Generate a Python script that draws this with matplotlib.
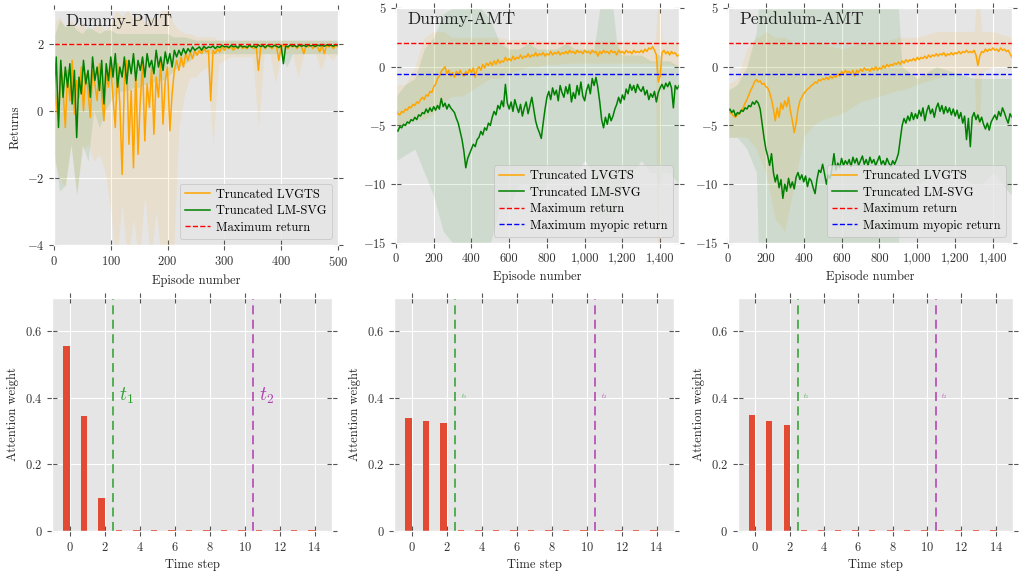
import numpy as np
import matplotlib
matplotlib.use("Agg")
import matplotlib.pyplot as plt
from matplotlib.ticker import FuncFormatter

plt.style.use("ggplot")
plt.rcParams["font.family"] = ["cmr10", "DejaVu Serif"]
plt.rcParams["mathtext.fontset"] = "cm"
plt.rcParams["axes.formatter.use_mathtext"] = True
plt.rcParams["axes.unicode_minus"] = True

# ---------------- data: training curves ----------------
# Dummy-PMT, every 4 episodes (0..500)
pmt_ep = np.arange(0, 501, 4)
pmt_lvgts = [1.0, 0.2, -0.3, 1.4, 0.6, -0.5, 1.2, 0.3, 1.5, -0.1,
             0.9, 0.4, 1.3, 0.0, 1.1, 0.6, -0.2, 1.2, 0.8, 0.3,
             1.4, 0.5, -0.3, 1.1, 0.7, 1.3,
             0.4, -0.5, 1.4, 0.2, -1.9, 0.9, 1.5, -1.0, 0.6, -1.7,
             1.2, -1.3, 0.3, 1.4, -0.9, 0.8, 0.1, 1.3, -0.7, 1.0,
             0.4, 1.5, -0.4, 0.9, 1.3, -0.6, 0.5, 1.2,
             1.5, 1.2, 1.6, 1.3, 1.7, 1.5, 1.75, 1.55, 1.8,
             1.65, 1.8, 1.7, 1.85, 1.75, 1.8, 0.3, 1.8, 1.7, 1.85, 1.75, 1.9, 1.8,
             1.9, 1.85, 1.9, 1.8, 1.9, 1.85, 1.95, 1.85, 1.9, 1.85,
             1.95, 1.9, 1.85, 1.95, 1.2, 1.9, 1.95, 1.85, 1.95, 1.9,
             1.85, 1.95, 1.9, 1.5, 1.9, 1.95, 1.9, 1.85, 1.95, 1.9,
             1.95, 1.85, 1.95, 1.9, 1.7, 1.95, 1.9, 1.95, 1.85, 1.95,
             1.9, 1.75, 1.95, 1.7, 1.95, 1.9, 1.95, 1.85, 1.95, 1.9]
pmt_lmsvg = [0.5, 1.6, -0.5, 1.5, 0.4, 1.3, 0.7, 1.4, 0.2, 1.2,
             -0.8, 1.0, 0.5, 1.5, 0.8, 1.2, 0.4, 1.6, 0.9, 1.3,
             0.6, 1.5, 0.2, 1.4, 0.9, 1.6,
             1.0, 1.7, 0.7, 1.3, 1.0, 1.6, 0.8, 1.5, 1.1, 1.7,
             0.9, 1.5, 1.2, 1.6, 1.0, 1.7, 1.3, 1.5, 1.1, 1.8,
             1.3, 1.6, 1.2, 1.75, 1.4, 1.7, 1.3, 1.8,
             1.6, 1.8, 1.65, 1.85, 1.7, 1.85, 1.75, 1.9, 1.8,
             1.85, 1.9, 1.8, 1.92, 1.85, 1.9, 1.88, 1.93, 1.85, 1.92, 1.88, 1.95, 1.9,
             1.92, 1.88, 1.95, 1.9, 1.93, 1.87, 1.95, 1.9, 1.92, 1.88,
             1.95, 1.9, 1.93, 1.88, 1.96, 1.91, 1.94, 1.88, 1.95, 1.92,
             1.9, 1.95, 1.92, 1.88, 1.95, 1.4, 1.93, 1.9, 1.96, 1.92,
             1.94, 1.9, 1.96, 1.92, 1.95, 1.91, 1.96, 1.93, 1.95, 1.91,
             1.96, 1.93, 1.95, 1.92, 1.96, 1.94, 1.95, 1.92, 1.96, 1.94]
pmt_band_ep = np.arange(0, 501, 10)
pmt_lvgts_lo = [-1.5, -2.0, -2.3, -1.0, -2.5, -1.2, -1.0, -1.5, -1.3, -1.8,
                -3.0, -4.5, -2.8, -4.5, -3.2, -4.5, -2.5, -4.5, -3.0, -4.5,
                -4.5, -4.5, -0.5, 0.5, 1.0, 1.0, 1.2, 1.3, -1.0, 1.4,
                1.5, 1.6, 1.6, 1.6, 1.6, 1.6, -0.5, 1.7, 1.7, 0.8,
                1.7, 1.7, 1.7, 1.0, 1.7, 1.7, 1.7, 1.2, 1.7, 1.5,
                1.7]
pmt_lvgts_hi = [2.6, 2.8, 2.5, 2.7, 2.5, 2.6, 2.4, 2.5, 2.6, 2.4,
                2.6, 3.0, 2.8, 3.0, 2.7, 2.9, 2.6, 2.8, 2.7, 3.0,
                3.1, 2.6, 2.4, 2.3, 2.3, 2.2, 2.2, 2.2, 2.2, 2.1,
                2.1, 2.1, 2.1, 2.1, 2.1, 2.1, 2.1, 2.1, 2.1, 2.1,
                2.1, 2.1, 2.1, 2.1, 2.1, 2.1, 2.1, 2.1, 2.1, 2.1,
                2.1]
pmt_lmsvg_lo = [-1.2, -2.4, -2.2, -1.0, -2.5, -1.0, -1.5, 0.0, -0.5, 0.0,
                0.3, 0.5, 0.6, 0.6, 0.7, 0.7, 0.8, 0.8, 0.9, 0.9,
                1.0, 1.2, 1.3, 1.4, 1.5, 1.7, 1.7, 1.7, 1.7, 1.7,
                1.7, 1.7, 1.7, 1.7, 1.7, 1.7, 1.7, 1.7, 1.7, 1.7,
                1.7, 1.3, 1.7, 1.7, 1.7, 1.7, 1.7, 1.7, 1.7, 1.7,
                1.7]
pmt_lmsvg_hi = [2.2, 2.7, 2.5, 2.6, 2.4, 2.3, 2.5, 2.4, 2.3, 2.4,
                2.4, 2.3, 2.3, 2.3, 2.3, 2.3, 2.3, 2.3, 2.3, 2.3,
                2.3, 2.2, 2.2, 2.2, 2.15, 2.1, 2.1, 2.1, 2.1, 2.1,
                2.1, 2.1, 2.1, 2.1, 2.1, 2.1, 2.1, 2.1, 2.1, 2.1,
                2.1, 2.1, 2.1, 2.1, 2.1, 2.1, 2.1, 2.1, 2.1, 2.1,
                2.1]

# Dummy-AMT, every 10 episodes (0..1500)
amt_ep = np.arange(0, 1501, 10)
amt_lvgts = [-3.7, -4.0, -4.1, -3.8, -3.9, -3.6, -3.7, -3.4, -3.5, -3.2,
             -3.3, -3.0, -3.1, -2.8, -2.6, -2.8, -2.4, -2.5, -2.1, -2.2,
             -1.7, -1.5, -1.0, -0.8, -0.4, -0.2, 0.0, -0.6, -0.3, -0.8,
             -0.5, -0.9, -0.4, -0.7, -0.3, -0.6, -0.8, -0.4, -0.6, -0.2,
             -0.5, -0.1, -0.9, -0.2, 0.0, -0.3, 0.2, -0.1, 0.3, 0.1,
             0.4, 0.1, 0.5, 0.2, 0.6, 0.3, 0.5, 0.4, 0.8, 0.5,
             0.7, 0.5, 0.9, 0.6, 0.8, 0.7, 1.0, 0.7, 0.9, 0.8,
             1.1, 0.8, 1.0, 0.9, 1.2, 0.9, 1.1, 1.0, 1.2, 0.9,
             1.1, 1.0, 1.3, 1.0, 1.2, 1.1, 1.3, 1.0, 1.2, 1.1,
             1.3, 1.1, 1.4, 1.2, 1.3, 1.1, 1.4, 1.2, 1.3, 1.1,
             1.4, 1.2, 1.3, 1.1, 1.4, 1.2, 1.3, 0.9, 1.3, 1.1,
             1.4, 1.2, 1.3, 1.1, 1.4, 1.2, 1.3, 1.0, 1.4, 1.2,
             1.3, 1.1, 1.4, 1.2, 1.3, 1.1, 1.4, 1.2, 1.3, 1.2,
             1.4, 1.2, 1.5, 1.3, 1.6, 1.5, 1.7, 1.4, 1.0, -1.3,
             -0.8, 1.2, 1.4, 1.1, 1.3, 1.0, 1.3, 1.1, 1.2, 0.9, 1.0]
amt_lmsvg = [-5.3, -5.5, -5.1, -5.2, -4.9, -5.0, -4.7, -4.8, -4.5, -4.6,
             -4.3, -4.5, -4.1, -4.2, -3.9, -4.0, -3.6, -3.9, -3.5, -3.8,
             -3.4, -3.7, -3.3, -3.6, -2.7, -3.4, -3.1, -3.6, -3.2, -3.5,
             -3.7, -3.9, -4.4, -4.8, -5.5, -6.2, -7.2, -8.6, -7.8, -7.4,
             -7.0, -6.6, -6.8, -6.2, -6.0, -5.5, -5.8, -5.2, -5.4, -4.8,
             -5.0, -4.3, -3.8, -4.1, -3.3, -3.6, -2.9, -3.4, -1.5, -3.1,
             -3.6, -3.0, -3.8, -2.8, -3.4, -3.9, -3.2, -4.2, -3.5, -3.0,
             -4.0, -3.3, -2.6, -3.6, -4.6, -5.2, -5.6, -6.1, -4.8, -3.6,
             -2.6, -2.1, -2.8, -1.8, -2.4, -2.0, -2.9, -1.6, -2.2, -2.6,
             -1.7, -2.3, -1.5, -3.0, -2.2, -2.7, -1.6, -2.4, -1.3, -2.5,
             -2.9, -2.0, -1.5, -2.3, -1.0, -1.6, -0.9, -1.8, -3.0, -4.5,
             -5.2, -4.3, -4.9, -4.0, -4.6, -4.2, -3.6, -3.2, -2.6, -3.1,
             -2.4, -2.8, -1.9, -2.3, -1.5, -2.0, -1.6, -2.2, -1.5, -1.9,
             -2.1, -1.7, -2.4, -2.0, -2.8, -2.3, -2.6, -2.1, -3.0, -2.2,
             -1.8, -1.5, -1.9, -1.4, -1.7, -1.3, -1.8, -3.5, -1.6, -1.9, -1.6]
amt_band_ep = [0, 50, 100, 150, 200, 250, 300, 350, 400, 450, 500, 550, 600,
               650, 700, 750, 800, 850, 900, 950, 1000, 1050, 1080, 1100,
               1150, 1170, 1200, 1250, 1300, 1350, 1375, 1385, 1400, 1410,
               1450, 1500]
amt_lvgts_lo = [-5, -5, -4.5, -4.5, -4, -3, -2.5, -2.5, -2, -1.5, -1, -1, -0.5,
                -0.3, 0, 0, 0.2, 0.2, 0.3, 0.3, 0.3, 0.3, 0.3, 0.3,
                0.3, 0.3, 0.3, 0.3, 0.3, 0.3, 0.3, -15, -15, 0.2,
                0.2, 0]
amt_lvgts_hi = [-1.5, -1.5, 0, 2.5, 3, 3, 2.5, 2.5, 2.5, 2.5, 2.5, 2.5, 2.3,
                2.3, 2.3, 2.2, 2.2, 2.2, 2.2, 2.2, 2.2, 2.2, 2.2, 2.2,
                2.2, 2.2, 2.2, 2.2, 2.2, 2.2, 2.2, 5, 5, 2.2,
                2.2, 2]
amt_lmsvg_lo = [-8, -7.5, -7, -9, -11, -14, -15, -15, -15, -15, -15, -12, -12,
                -10, -10, -11, -10, -9, -9, -9, -8, -9, -13, -13,
                -13, -11, -10, -9, -8, -9, -9, -10, -10, -9,
                -9, -10]
amt_lmsvg_hi = [-2.5, -1.5, -1, 1.5, 2.5, 4.5, 5, 5, 5, 5, 4, 2, 1.5,
                1.5, 2, 1.5, 1.5, 1.5, 2, 1.5, 1.5, 1.5, 5, 5,
                5, 2, 1, 1, 1, 0.5, 0.5, 1, 1, 0.5,
                0.5, 0]

# Pendulum-AMT, every 10 episodes (0..1500)
pen_ep = np.arange(0, 1501, 10)
pen_lvgts = [-3.7, -3.9, -4.0, -4.2, -4.3, -4.1, -4.0, -3.8, -3.5, -3.1,
             -2.8, -2.4, -2.0, -1.7, -1.3, -1.1, -1.3, -1.2, -1.5, -1.4,
             -1.7, -1.8, -2.2, -2.8, -3.6, -4.6, -3.5, -4.3, -3.1, -3.6,
             -2.9, -3.4, -2.6, -3.8, -4.6, -5.6, -4.8, -3.6, -2.9, -2.6,
             -2.3, -2.1, -1.9, -1.8, -1.6, -1.5, -1.3, -1.4, -1.1, -1.2,
             -1.0, -1.1, -0.9, -1.1, -0.8, -1.0, -0.8, -0.9, -0.6, -0.8,
             -0.4, -0.6, -0.3, -0.5, -0.4, -0.6, -0.3, -0.8, -0.3, -0.5,
             -0.2, -0.4, -0.1, -0.3, -0.2, -0.4, -0.1, -0.3, 0.0, -0.3,
             -0.1, -0.2, 0.1, -0.1, 0.2, 0.0, 0.2, 0.1, 0.3, 0.2,
             0.4, 0.2, 0.5, 0.3, 0.6, 0.4, 0.6, 0.5, 0.7, 0.5,
             0.8, 0.6, 0.8, 0.7, 0.9, 0.7, 1.0, 0.8, 1.0, 0.9,
             1.1, 0.9, 1.1, 1.0, 1.2, 0.9, 1.1, 1.0, 1.2, 1.0,
             1.2, 1.1, 1.3, 1.1, 1.3, 1.2, 1.4, 1.2, 1.3, 1.2,
             1.4, 1.0, 0.1, 0.9, 1.3, 1.2, 1.5, 1.3, 1.5, 1.4,
             1.6, 1.4, 1.5, 1.3, 1.6, 1.4, 1.5, 1.3, 1.4, 1.1, 0.8]
pen_lmsvg = [-3.8, -3.6, -3.9, -3.7, -4.2, -3.9, -4.0, -3.7, -3.8, -3.5,
             -3.6, -3.3, -3.4, -3.0, -3.2, -2.9, -3.1, -3.6, -4.8, -6.0,
             -7.0, -7.6, -8.4, -7.4, -9.0, -9.8, -9.2, -10.3, -9.6, -11.2,
             -10.0, -10.6, -9.5, -10.3, -9.8, -10.4, -9.4, -9.0, -9.6, -9.2,
             -9.8, -9.3, -10.2, -9.5, -9.7, -10.3, -10.8, -9.6, -8.8, -9.0,
             -8.3, -9.1, -10.0, -9.2, -9.5, -8.6, -7.4, -8.8, -8.2, -8.6,
             -7.8, -8.4, -8.0, -8.3, -7.9, -8.5, -7.7, -8.2, -7.8, -8.4,
             -8.0, -7.6, -8.3, -7.9, -8.4, -7.7, -8.2, -7.9, -8.4, -8.0,
             -7.6, -8.3, -8.0, -8.4, -7.8, -8.2, -8.5, -8.0, -8.3, -7.9,
             -7.4, -6.2, -5.0, -4.4, -4.8, -4.2, -4.6, -3.9, -4.5, -4.0,
             -4.4, -3.7, -4.2, -3.5, -4.6, -3.8, -3.3, -4.0, -3.6, -4.3,
             -3.5, -3.1, -3.8, -3.3, -4.0, -3.4, -3.9, -3.5, -4.1, -3.6,
             -4.2, -3.7, -4.4, -3.9, -4.8, -4.2, -6.2, -4.4, -6.8, -4.3,
             -3.9, -4.5, -4.1, -4.7, -4.3, -4.9, -5.3, -4.8, -5.4, -4.7,
             -4.4, -4.1, -4.5, -3.8, -4.2, -3.5, -3.9, -4.4, -4.8, -4.0, -4.3]
pen_band_ep = [0, 50, 100, 150, 160, 200, 250, 300, 350, 400, 450, 500, 600,
               700, 800, 900, 920, 1000, 1100, 1200, 1300, 1310, 1330, 1340,
               1400, 1500]
pen_lvgts_lo = [-6, -6, -6, -7, -7.5, -9, -13, -14, -10, -6, -5, -4.5, -4,
                -3, -2.5, -2, -2, -1.5, -1, -0.5, -0.5, -5, -5, -0.5,
                0, 0]
pen_lvgts_hi = [-1.5, -1, 1.5, 2.5, 2.5, 3, 2.5, 2.5, 2, 2, 2, 2, 1.5,
                2, 2, 2.5, 2.5, 2.5, 3, 3, 3, 5, 5, 3,
                3, 2.5]
pen_lmsvg_lo = [-6, -6, -7, -9, -15, -15, -15, -15, -15, -15, -15, -15, -15,
                -15, -15, -15, -11, -10, -9, -9, -10, -10, -10, -10,
                -9, -11]
pen_lmsvg_hi = [-2, -1.5, 0, 3, 5, 5, 5, 5, 5, 5, 5, 5, 5,
                5, 5, 5, 0, -1, 0, -0.5, -1, -1, -1, -1,
                -1, -1]

max_return = 2.0
max_myopic_return = -0.65

# ---------------- data: attention weights ----------------
time_steps = np.arange(15)
att_pmt = [0.555, 0.347, 0.098] + [0.003] * 12
att_amt = [0.341, 0.332, 0.325] + [0.003] * 12
att_pen = [0.350, 0.332, 0.317] + [0.003] * 12
t1 = 2.5
t2 = 10.5

fig = plt.figure(figsize=(10.2, 5.74), dpi=100)
ax1 = fig.add_axes([0.0529, 0.5732, 0.2784, 0.4094])
ax2 = fig.add_axes([0.3882, 0.5767, 0.2775, 0.4094])
ax3 = fig.add_axes([0.7137, 0.5767, 0.2784, 0.4094])
ax4 = fig.add_axes([0.0510, 0.0749, 0.2745, 0.4059])
ax5 = fig.add_axes([0.3863, 0.0749, 0.2745, 0.4059])
ax6 = fig.add_axes([0.7235, 0.0749, 0.2696, 0.4059])

num_fmt = FuncFormatter(lambda v, p: f"${v:g}$")
comma_fmt = FuncFormatter(lambda v, p: f"{v:,.0f}")


def style_axis(ax):
    ax.tick_params(direction="inout", length=7, top=True, right=True,
                   colors="#555555", labelcolor="#333333", labelsize=9)
    ax.yaxis.set_major_formatter(num_fmt)


def returns_plot(ax, ep, lv, lm, bep, lv_lo, lv_hi, lm_lo, lm_hi, title, myopic):
    ax.fill_between(bep, lv_lo, lv_hi, color="orange", alpha=0.1, lw=0)
    ax.fill_between(bep, lm_lo, lm_hi, color="green", alpha=0.1, lw=0)
    ax.plot(ep, lv, color="orange", lw=1.1, label="Truncated LVGTS")
    ax.plot(ep, lm, color="green", lw=1.1, label="Truncated LM-SVG")
    ax.axhline(max_return, color="red", ls="--", lw=1, label="Maximum return")
    if myopic:
        ax.axhline(max_myopic_return, color="blue", ls="--", lw=1,
                   label="Maximum myopic return")
    ax.text(0.04, 0.985, title, transform=ax.transAxes, va="top", ha="left",
            fontsize=12.5, color="#222222")
    ax.set_xlabel("Episode number", fontsize=9, color="#222222")
    leg = ax.legend(loc="lower right", fontsize=9, frameon=True,
                    handlelength=2.0, handletextpad=0.5, labelspacing=0.35)
    leg.get_frame().set_facecolor("#E5E5E5")
    leg.get_frame().set_edgecolor("#BBBBBB")
    style_axis(ax)


returns_plot(ax1, pmt_ep, pmt_lvgts, pmt_lmsvg, pmt_band_ep, pmt_lvgts_lo,
             pmt_lvgts_hi, pmt_lmsvg_lo, pmt_lmsvg_hi, "Dummy-PMT", False)
ax1.set_xlim(0, 500)
ax1.set_ylim(-4, 3)
ax1.set_yticks([-4, -2, 0, 2])
ax1.set_xticks(range(0, 501, 100))
ax1.set_ylabel("Returns", fontsize=9, color="#222222")

returns_plot(ax2, amt_ep, amt_lvgts, amt_lmsvg, amt_band_ep, amt_lvgts_lo,
             amt_lvgts_hi, amt_lmsvg_lo, amt_lmsvg_hi, "Dummy-AMT", True)
returns_plot(ax3, pen_ep, pen_lvgts, pen_lmsvg, pen_band_ep, pen_lvgts_lo,
             pen_lvgts_hi, pen_lmsvg_lo, pen_lmsvg_hi, "Pendulum-AMT", True)
for ax in (ax2, ax3):
    ax.set_xlim(0, 1500)
    ax.set_ylim(-15, 5)
    ax.set_yticks([-15, -10, -5, 0, 5])
    ax.set_xticks(range(0, 1401, 200))
    ax.xaxis.set_major_formatter(comma_fmt)


def attention_plot(ax, weights, label_size):
    ax.bar(time_steps, weights, width=-0.35, align="edge", color="#E24A33")
    ax.axvline(t1, color="#2ca02c", ls=(0, (5, 3)), lw=1.3, alpha=0.85)
    ax.axvline(t2, color="#b03cb0", ls=(0, (5, 3)), lw=1.3, alpha=0.85)
    ax.text(t1 + 0.3, 0.405, "$t_1$", color="#2ca02c", fontsize=label_size,
            va="center", ha="left")
    ax.text(t2 + 0.3, 0.405, "$t_2$", color="#b03cb0", fontsize=label_size,
            va="center", ha="left")
    ax.set_xlim(-1, 15)
    ax.set_ylim(0, 0.7)
    ax.set_xticks(range(0, 15, 2))
    ax.set_yticks([0, 0.2, 0.4, 0.6])
    ax.set_xlabel("Time step", fontsize=9, color="#222222")
    ax.set_ylabel("Attention weight", fontsize=9, color="#222222")
    style_axis(ax)
    ax.xaxis.set_major_formatter(num_fmt)


attention_plot(ax4, att_pmt, 14)
attention_plot(ax5, att_amt, 4)
attention_plot(ax6, att_pen, 4)

fig.savefig("out.png", dpi=100)
